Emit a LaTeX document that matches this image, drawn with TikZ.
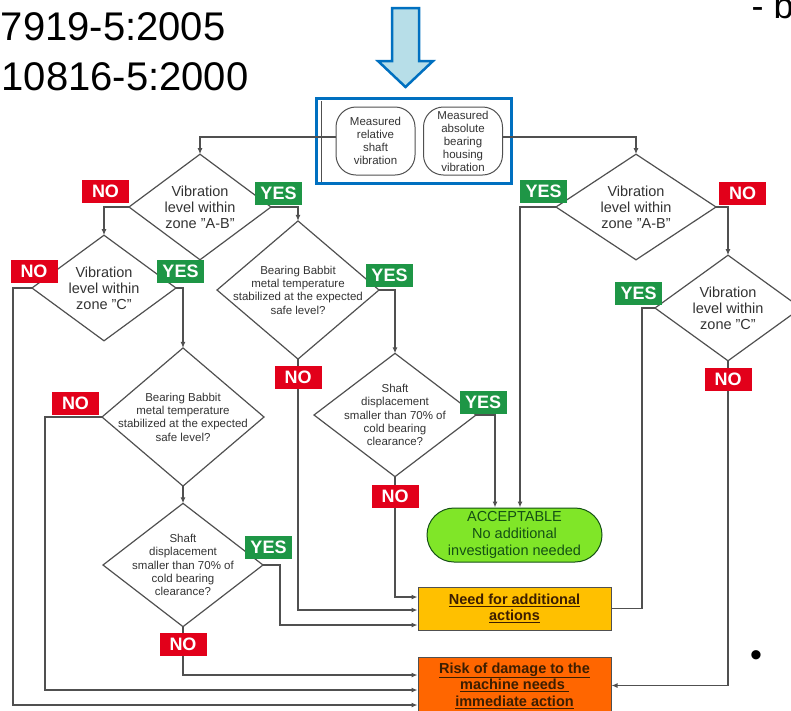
\documentclass[tikz,border=0pt]{standalone}
\usepackage{fontspec}
\setmainfont{Liberation Sans}
\usepackage{tikz}
\usetikzlibrary{arrows.meta,positioning,shapes.geometric}
\definecolor{linegray}{RGB}{80,80,80}
\definecolor{frameblue}{RGB}{0,112,192}
\definecolor{arrowfill}{RGB}{183,222,232}
\definecolor{noRed}{RGB}{226,0,26}
\definecolor{yesGreen}{RGB}{30,150,70}
\definecolor{okGreen}{RGB}{128,230,40}
\definecolor{okText}{RGB}{20,80,20}
\definecolor{needYellow}{RGB}{255,192,0}
\definecolor{riskOrange}{RGB}{255,102,0}
\definecolor{boxText}{RGB}{60,30,0}
\tikzset{
    vibbox/.style={draw=linegray, line width=1pt, rounded corners=20pt, align=center, font=\fontsize{11.5}{13}\selectfont, text=black!80, minimum width=79pt, minimum height=68pt, inner sep=0pt},
    zonediamond/.style={diamond, draw=linegray, line width=1.2pt, align=center, font=\fontsize{14.5}{16}\selectfont, text=black!80, inner sep=-2pt, outer sep=0pt, minimum width=142pt, minimum height=90pt},
    checkdiamond/.style={diamond, draw=linegray, line width=1.2pt, align=center, font=\fontsize{11.5}{13.3}\selectfont, text=black!80, inner sep=-10pt, outer sep=0pt, minimum width=162pt, minimum height=102pt},
    okbox/.style={draw=okText, line width=1pt, fill=okGreen, rounded corners=27pt, align=center, font=\fontsize{14.5}{17}\selectfont, text=okText, minimum width=175pt, minimum height=54pt, inner sep=0pt},
    actbox/.style={draw=linegray, line width=1pt, align=center, font=\bfseries\fontsize{14.5}{16.5}\selectfont, text=boxText, minimum width=193pt, inner sep=0pt},
    nolbl/.style={fill=noRed, text=white, font=\bfseries\fontsize{18}{18}\selectfont, minimum width=47pt, minimum height=23pt, inner sep=0pt},
    yeslbl/.style={nolbl, fill=yesGreen},
    flow/.style={draw=linegray, line width=1.3pt, -{Latex[length=6pt,width=5pt]}},
    link/.style={draw=linegray, line width=1.3pt}
}
\begin{document}
\begin{tikzpicture}[x=1pt, y=1pt, on grid, node distance=80pt]
    \useasboundingbox (0,0) rectangle (791,-710);
    % slide text, cut off at the page edge
    \node[anchor=base east, font=\fontsize{40}{40}\selectfont] (iso1) at (229,-40) {7919-5:2005};
    \node[anchor=base east, font=\fontsize{40}{40}\selectfont] (iso2) at (252,-90) {10816-5:2000};
    \node[anchor=base west, font=\fontsize{36}{36}\selectfont] (dashb) at (748,-18) {- b};
    \node[font=\fontsize{34}{34}\selectfont] (dot) at (756,-659) {•};

    % input arrow and frame
    \draw[frameblue, line width=2.5pt, fill=arrowfill, line join=miter] (392,-8) -- (419,-8) -- (419,-61) -- (433,-61) -- (405.5,-87) -- (378,-61) -- (392,-61) -- cycle;
    \node[draw=frameblue, line width=3pt, minimum width=195pt, minimum height=85pt] (frame) at (414,-141) {};
    \draw[linegray, line width=1pt] (321,-101) -- (321,-182);

    \node[vibbox] (meas1) at (375.5,-141) {Measured\\relative\\shaft\\vibration};
    \node[vibbox, right=87.5pt of meas1] (meas2) {Measured\\absolute\\bearing\\housing\\vibration};

    \node[zonediamond] (zone1) at (200,-207) {Vibration\\level within\\zone "A-B"};
    \node[zonediamond, minimum width=144pt, below left=81pt and 96pt of zone1] (zone2) {Vibration\\level within\\zone "C"};
    \node[checkdiamond, below right=129pt and 79pt of zone2] (temp1) {Bearing Babbit\\metal temperature\\stabilized at the expected\\safe level?};
    \node[checkdiamond, minimum width=160pt, below=148pt of temp1] (shaft1) {Shaft\\displacement\\smaller than 70\% of\\cold bearing\\clearance?};
    \node[checkdiamond, below right=83pt and 98pt of zone1] (temp2) {Bearing Babbit\\metal temperature\\stabilized at the expected\\safe level?};
    \node[checkdiamond, below right=125pt and 97pt of temp2] (shaft2) {Shaft\\displacement\\smaller than 70\% of\\cold bearing\\clearance?};
    \node[zonediamond, minimum width=160pt, minimum height=100pt] (zone3) at (636,-207) {Vibration\\level within\\zone "A-B"};
    \node[zonediamond, minimum width=146pt, below right=101pt and 92pt of zone3] (zone4) {Vibration\\level within\\zone "C"};

    \node[okbox] (accept) at (514.5,-535) {ACCEPTABLE\\No additional\\investigation needed};
    \node[actbox, fill=needYellow, minimum height=43pt, below=73.5pt of accept] (need) {\underline{Need for additional}\\\underline{actions}};
    \node[actbox, fill=riskOrange, minimum height=57pt, below=77pt of need] (risk) {\underline{Risk of damage to the}\\\underline{machine needs }\\\underline{immediate action}};

    \draw[flow] ([yshift=4pt]meas1.west) -| (zone1.north);
    \draw[flow] ([yshift=4pt]meas2.east) -| (zone3.north);
    \draw[flow] (zone1.west) -| (zone2.north);
    \draw[flow] (zone1.east) -| (temp2.north);
    \draw[flow] (zone2.west) -- ++(-19,0) |- ([yshift=-19.5pt]risk.west);
    \draw[flow] (zone2.east) -| (temp1.north);
    \draw[flow] (temp1.west) -- ++(-57,0) |- ([yshift=-4.5pt]risk.west);
    \draw[flow] (temp1) -- (shaft1);
    \draw[flow] (shaft1.east) -- ++(17,0) |- ([yshift=-16.5pt]need.west);
    \draw[flow] (shaft1.south) |- ([yshift=10.5pt]risk.west);
    \draw[flow] (temp2.east) -| (shaft2.north);
    \draw[flow] (temp2.south) |- ([yshift=-1.5pt]need.west);
    \draw[flow] (shaft2.south) |- ([yshift=11.5pt]need.west);
    \draw[flow] (shaft2.east) -| ([xshift=-19.5pt]accept.north);
    \draw[flow] (zone3.west) -| ([xshift=5.5pt]accept.north);
    \draw[flow] (zone3.east) -| (zone4.north);
    \draw[link] (zone4.west) -- ++(-13,0) |- (need.east);
    \draw[flow] (zone4.south) |- (risk.east);

    \node[nolbl, above left=15.5pt and 23.5pt of zone1.west, anchor=center] (no1) {NO};
    \node[yeslbl, above right=14pt and 7.5pt of zone1.east, anchor=center] (yes1) {YES};
    \node[nolbl, above right=16.5pt and 2pt of zone2.west, anchor=center] (no2) {NO};
    \node[yeslbl, above right=16.5pt and 4.5pt of zone2.east, anchor=center] (yes2) {YES};
    \node[nolbl, above left=13.5pt and 26.5pt of temp1.west, anchor=center] (no3) {NO};
    \node[yeslbl, above right=18pt and 5.5pt of shaft1.east, anchor=center] (yes3) {YES};
    \node[nolbl, below=17.5pt of shaft1.south, anchor=center] (no4) {NO};
    \node[yeslbl, above right=14.5pt and 10.5pt of temp2.east, anchor=center] (yes4) {YES};
    \node[nolbl, below=18.5pt of temp2.south, anchor=center] (no5) {NO};
    \node[yeslbl, above right=12.5pt and 7pt of shaft2.east, anchor=center] (yes5) {YES};
    \node[nolbl, below=19.5pt of shaft2.south, anchor=center] (no6) {NO};
    \node[yeslbl, above left=15.5pt and 12.5pt of zone3.west, anchor=center] (yes6) {YES};
    \node[nolbl, above right=14pt and 26.5pt of zone3.east, anchor=center] (no7) {NO};
    \node[yeslbl, above left=14.5pt and 16.5pt of zone4.west, anchor=center] (yes7) {YES};
    \node[nolbl, below=18.5pt of zone4.south, anchor=center] (no8) {NO};
\end{tikzpicture}
\end{document}
